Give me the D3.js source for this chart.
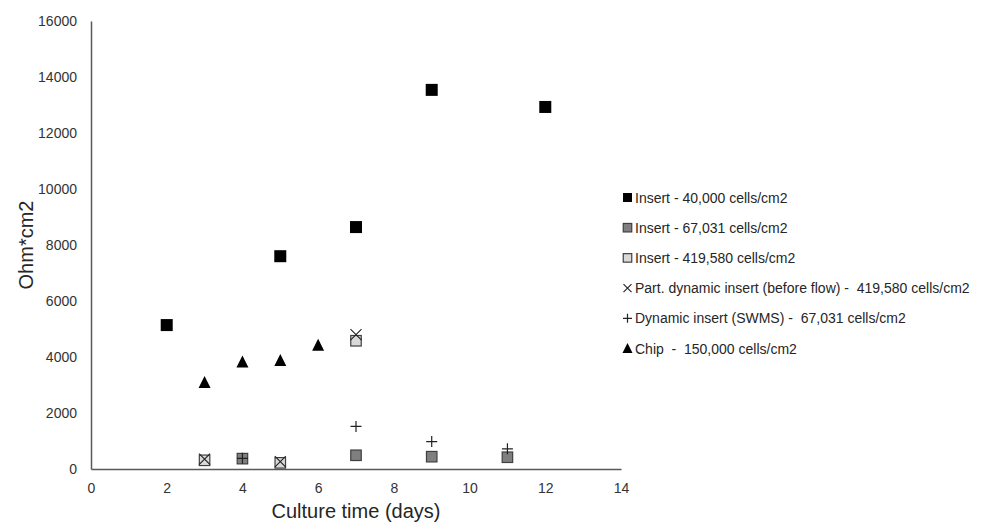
<!DOCTYPE html>
<html><head><meta charset="utf-8">
<script src="https://cdn.jsdelivr.net/npm/d3@7"></script>
<style>body{margin:0;background:#fff;} text{font-family:"Liberation Sans",Arial,sans-serif;white-space:pre;}</style>
</head><body><svg id="c" width="986" height="523"></svg>
<script>
const xTicks = [0,2,4,6,8,10,12,14];
const yTicks = [0,2000,4000,6000,8000,10000,12000,14000,16000];
const seriesNames = [
  "Insert - 40,000 cells/cm2",
  "Insert - 67,031 cells/cm2",
  "Insert - 419,580 cells/cm2",
  "Part. dynamic insert (before flow) -  419,580 cells/cm2",
  "Dynamic insert (SWMS) -  67,031 cells/cm2",
  "Chip  -  150,000 cells/cm2"
];
const insert40k = [[2,5140],[5,7600],[7,8640],[9,13540],[12,12930]];
const insert67k = [[4,370],[7,490],[9,440],[11,420]];
const insert419k = [[3,310],[5,220],[7,4580]];
const partDynamic = [[3,350],[5,260],[7,4800]];
const dynamicSWMS = [[4,380],[7,1520],[9,980],[11,720]];
const chip = [[3,3090],[4,3820],[5,3870],[6,4420]];

const svg = d3.select("#c");
const x = d3.scaleLinear().domain([0,14]).range([91,621]);
const y = d3.scaleLinear().domain([0,16000]).range([469,21]);

// axes
const axisCol = "#595959";
const gx = svg.append("g").attr("transform",`translate(0,${y(0)})`)
  .call(d3.axisBottom(x).tickValues(xTicks).tickSize(0).tickPadding(14));
const gy = svg.append("g").attr("transform",`translate(${x(0)},0)`)
  .call(d3.axisLeft(y).tickValues(yTicks).tickFormat(d3.format("d")).tickSize(0).tickPadding(14));
[gx,gy].forEach(g=>{
  g.select(".domain").attr("stroke",axisCol).attr("stroke-width",1.5);
  g.selectAll("text").attr("font-size",14).attr("fill","#333").attr("font-family","Liberation Sans, Arial, sans-serif");
});

svg.append("text").attr("x",(x(0)+x(14))/2).attr("y",518).attr("text-anchor","middle")
  .attr("font-size",20).attr("fill","#262626").text("Culture time (days)");
svg.append("text").attr("transform",`translate(33,${(y(0)+y(16000))/2}) rotate(-90)`)
  .attr("text-anchor","middle").attr("font-size",20).attr("fill","#262626").text("Ohm*cm2");

// marker drawers
function sq(g,cx,cy,s,fill,stroke){
  g.append("rect").attr("x",cx-s/2).attr("y",cy-s/2).attr("width",s).attr("height",s)
   .attr("fill",fill).attr("stroke",stroke).attr("stroke-width",stroke==="none"?0:1.2);
}
function tri(g,cx,cy,s){
  g.append("path").attr("d",`M${cx},${cy-s*0.55}L${cx+s/2},${cy+s*0.45}L${cx-s/2},${cy+s*0.45}Z`).attr("fill","#000");
}
function cross(g,cx,cy,s){
  g.append("path").attr("d",`M${cx-s/2},${cy-s/2}L${cx+s/2},${cy+s/2}M${cx+s/2},${cy-s/2}L${cx-s/2},${cy+s/2}`)
   .attr("stroke","#222").attr("stroke-width",1.1).attr("fill","none");
}
function plus(g,cx,cy,s){
  g.append("path").attr("d",`M${cx-s/2},${cy}L${cx+s/2},${cy}M${cx},${cy-s/2}L${cx},${cy+s/2}`)
   .attr("stroke","#222").attr("stroke-width",1.2).attr("fill","none");
}
const drawers = [
  (g,a,b,s)=>sq(g,a,b,s,"#000","none"),
  (g,a,b,s)=>sq(g,a,b,s,"#7f7f7f","#404040"),
  (g,a,b,s)=>sq(g,a,b,s,"#d9d9d9","#404040"),
  (g,a,b,s)=>cross(g,a,b,s),
  (g,a,b,s)=>plus(g,a,b,s),
  (g,a,b,s)=>tri(g,a,b,s)
];
const allSeries = [insert40k, insert67k, insert419k, partDynamic, dynamicSWMS, chip];
const sizes = [12,10.5,10.5,11,11,12];
const pg = svg.append("g");
allSeries.forEach((data,i)=>{
  data.forEach(d=>drawers[i](pg,x(d[0]),y(d[1]),sizes[i]));
});

// legend
const lg = svg.append("g");
const legSizes = [9,8.5,8.5,8,9,10];
seriesNames.forEach((n,i)=>{
  const yy = 197.5 + i*30.2;
  drawers[i](lg,627.5,yy,legSizes[i]);
  lg.append("text").attr("x",635).attr("y",yy+5).attr("font-size",14).attr("fill","#262626")
    .attr("xml:space","preserve").text(n);
});
</script></body></html>
